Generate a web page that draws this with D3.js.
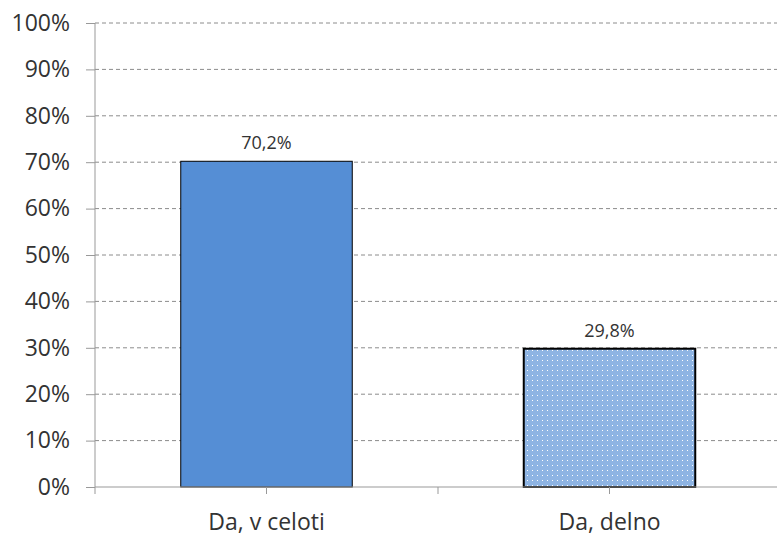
<!DOCTYPE html>
<html>
<head>
<meta charset="utf-8">
<script src="https://cdn.jsdelivr.net/npm/d3@7"></script>
<style>
  body { margin: 0; background: #fff; }
  svg { font-family: "Open Sans", sans-serif; }
</style>
</head>
<body>
<div id="chart"></div>
<script>
const categories = ['Da, v celoti', 'Da, delno'];
const values = [70.2, 29.8];
const valueLabels = ['70,2%', '29,8%'];
const yTicks = [0, 10, 20, 30, 40, 50, 60, 70, 80, 90, 100];

const width = 777;
const height = 536;
const margin = { top: 23, right: -4, bottom: 49, left: 95 };
const innerW = width - margin.left - margin.right;
const innerH = height - margin.top - margin.bottom;

const svg = d3.select('#chart')
  .append('svg')
  .attr('width', width)
  .attr('height', height);

const defs = svg.append('defs');
const pat = defs.append('pattern')
  .attr('id', 'dots')
  .attr('patternUnits', 'userSpaceOnUse')
  .attr('width', 5)
  .attr('height', 5);
pat.append('rect').attr('width', 5).attr('height', 5).attr('fill', '#8EB4E3');
pat.append('rect').attr('x', 2).attr('y', 2).attr('width', 1).attr('height', 1).attr('fill', '#fff');

const g = svg.append('g')
  .attr('transform', `translate(${margin.left},${margin.top})`);

const x = d3.scaleBand()
  .domain(categories)
  .range([0, innerW])
  .paddingInner(0)
  .paddingOuter(0);

const y = d3.scaleLinear()
  .domain([0, 100])
  .range([innerH, 0]);

// gridlines
g.selectAll('.grid')
  .data(yTicks.filter(d => d > 0))
  .enter()
  .append('line')
  .attr('x1', 0)
  .attr('x2', innerW)
  .attr('y1', d => y(d))
  .attr('y2', d => y(d))
  .attr('stroke', '#8c8c8c')
  .attr('stroke-width', 1)
  .attr('stroke-dasharray', '4,3');

// bars
const barW = x.bandwidth() * 0.5;
g.selectAll('.bar')
  .data(values)
  .enter()
  .append('rect')
  .attr('x', (d, i) => x(categories[i]) + (x.bandwidth() - barW) / 2)
  .attr('y', d => y(d))
  .attr('width', barW)
  .attr('height', d => innerH - y(d))
  .attr('fill', (d, i) => i === 0 ? '#558ED5' : 'url(#dots)')
  .attr('stroke', '#000')
  .attr('stroke-width', (d, i) => i === 0 ? 1 : 2);

// value labels
g.selectAll('.vlabel')
  .data(values)
  .enter()
  .append('text')
  .attr('x', (d, i) => x(categories[i]) + x.bandwidth() / 2)
  .attr('y', d => y(d) - 12)
  .attr('text-anchor', 'middle')
  .attr('font-size', 18)
  .attr('fill', '#333')
  .text((d, i) => valueLabels[i]);

// y axis
const yAxis = g.append('g')
  .call(d3.axisLeft(y).tickValues(yTicks).tickFormat(d => d + '%').tickSize(9).tickPadding(16));
yAxis.select('.domain').attr('stroke', '#999').attr('d', `M0,${innerH}V0`);
yAxis.selectAll('.tick line').attr('stroke', '#999');
yAxis.selectAll('.tick text').attr('font-size', 23).attr('fill', '#333').attr('font-family', '"Open Sans", sans-serif');

// x axis
const xAxis = g.append('g')
  .attr('transform', `translate(0,${innerH})`)
  .call(d3.axisBottom(x).tickSize(0).tickPadding(27));
xAxis.select('.domain').attr('stroke', '#999').attr('d', `M0,0H${innerW}`);
xAxis.selectAll('.tick text').attr('font-size', 23).attr('fill', '#333').attr('font-family', '"Open Sans", sans-serif');

// x ticks at category centers and boundaries
const xTickPos = [0, x.bandwidth() / 2, x.bandwidth(), x.bandwidth() * 1.5];
g.selectAll('.xt')
  .data(xTickPos)
  .enter()
  .append('line')
  .attr('x1', d => d)
  .attr('x2', d => d)
  .attr('y1', innerH)
  .attr('y2', innerH + 7)
  .attr('stroke', '#999');
</script>
</body>
</html>
